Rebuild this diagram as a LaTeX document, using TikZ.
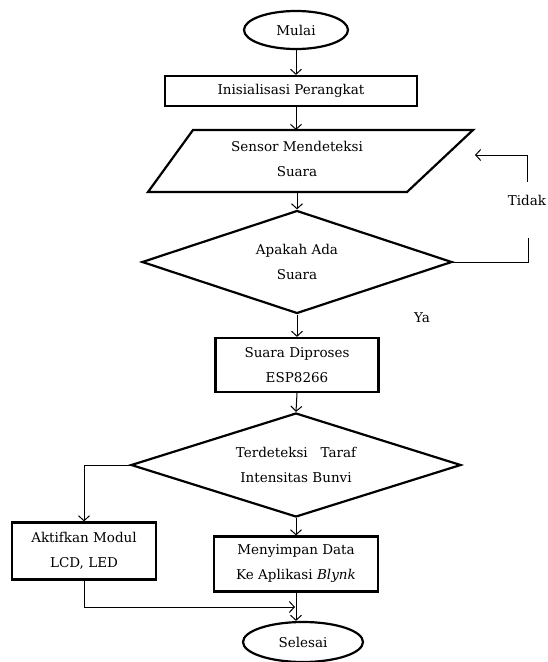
\documentclass[tikz,border=0pt]{standalone}
\usepackage{fontspec}
\setmainfont{DejaVu Serif}
\usepackage{tikz}
\usetikzlibrary{shapes.geometric}
\usetikzlibrary{arrows.meta}
\usetikzlibrary{positioning}

\begin{document}
\begin{tikzpicture}[x=1pt,y=-1pt,
        every node/.style={font=\fontsize{13.5}{25}\selectfont, align=center},
        terminal/.style={draw, ellipse, line width=2.2pt, inner sep=0pt},
        proc/.style={draw, rectangle, line width=2.2pt, inner sep=0pt},
        decide/.style={draw, diamond, aspect=3, line width=2.2pt, inner sep=0pt},
        flow/.style={line width=1pt, -{Straight Barb[length=5pt,width=11pt]}},
        link/.style={line width=1pt}]
            \useasboundingbox (0,0) rectangle (547,662);

            \node[terminal, minimum width=104, minimum height=38] (mulai) at (296,30) {Mulai};
            \node[proc, minimum width=252, minimum height=30] (init) at (291,91) {Inisialisasi Perangkat};

            \draw[line width=2.2pt] (193,130) -- (473,130) -- (407,192) -- (148,192) -- cycle;
            \node (sensor) at (297,159) {Sensor Mendeteksi\\Suara};
            \coordinate (sensortop) at (296,130);
            \coordinate (sensorbot) at (297,192);
            \coordinate (sensorright) at (475,155);

            \node[decide, minimum width=310, minimum height=103] (cek) at (297,262) {Apakah Ada\\Suara};
            \node[proc, minimum width=163, minimum height=54] (proses) at (297,365) {Suara Diproses\\ESP8266};
            \node[decide, minimum width=330, minimum height=104] (taraf) at (296,465) {Terdeteksi\ \ \ Taraf\\Intensitas Bunvi};
            \node[proc, minimum width=144, minimum height=57] (aktif) at (84,551) {Aktifkan Modul\\LCD, LED};
            \node[proc, minimum width=164, minimum height=55] (simpan) at (296,564) {Menyimpan Data\\Ke Aplikasi \textit{Blynk}};
            \node[terminal, minimum width=120, minimum height=40] (selesai) at (303,642) {Selesai};

            \node (tidak) at (527,200) {Tidak};
            \node (ya) at (422,318) {Ya};
            \coordinate (t1) at (528,238);
            \coordinate (t2) at (527,182);
            \coordinate (gabung) at (295,607);

            \draw[flow] (mulai) -- (mulai |- init.north);
            \draw[flow] (sensortop |- init.south) -- (sensortop);
            \draw[flow] (sensorbot) -- (cek.north);
            \draw[link] (cek.east) -| (t1);
            \draw[flow] (t2) |- (sensorright);
            \draw[flow] (cek.south) -- (proses.north);
            \draw[flow] (proses.south) -- (taraf.north);
            \draw[flow] (taraf.west) -| (aktif.north);
            \draw[flow] (taraf.south) -- (simpan.north);
            \draw[flow] (aktif.south) |- (gabung);
            \draw[flow] (simpan.south) -- (simpan.south |- selesai.north);
        \end{tikzpicture}
\end{document}
